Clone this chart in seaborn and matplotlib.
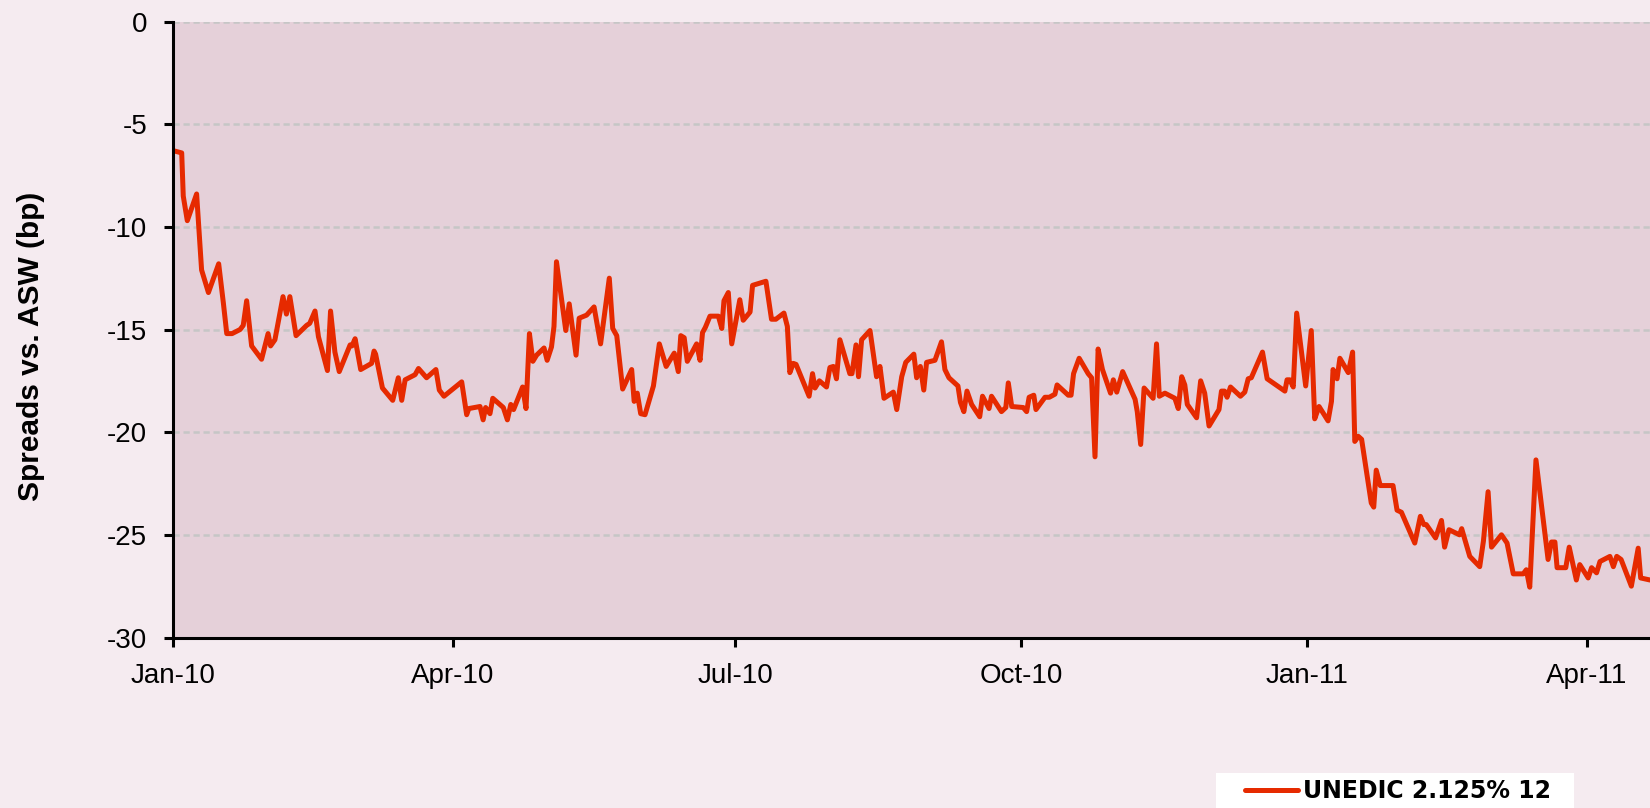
import pandas as pd
import matplotlib
matplotlib.use("Agg")
import matplotlib.pyplot as plt
import matplotlib.dates as mdates
from matplotlib.patches import Rectangle
import seaborn as sns

# days after 1 Jan 2010
days = [0.3, 2.8, 3.3, 4.6, 7.6, 9.2, 11.4, 14.7, 16.2, 17.3, 19.0, 21.6, 22.6, 23.7,
        25.3, 28.5, 30.6, 31.4, 32.8, 35.4, 36.5, 37.6, 39.6, 43.0, 44.0, 45.7, 46.8,
        49.7, 50.7, 52.1, 53.5, 57.0, 57.6, 58.6, 60.4, 63.9, 64.7, 65.2, 67.4, 70.7,
        72.5, 73.6, 74.7, 77.9, 79.0, 81.6, 84.6, 85.7, 87.2, 92.9, 94.5, 95.2, 98.8,
        99.8, 100.6, 102.0, 102.9, 106.3, 107.6, 108.7, 109.6, 112.5, 113.6, 114.7,
        115.8, 117.0, 119.4, 120.4, 121.8, 122.6, 123.4, 126.4, 127.5, 129.7, 130.7,
        133.1, 135.5, 137.6, 140.4, 141.5, 142.8, 144.7, 147.6, 148.4, 149.4, 150.5,
        151.9, 154.6, 156.5, 158.7, 161.3, 162.6, 163.4, 164.5, 165.5, 168.5, 169.6,
        170.4, 171.3, 172.8, 175.5, 176.6, 177.3, 178.7, 179.8, 182.4, 183.5, 185.7,
        186.5, 190.8, 192.6, 194.0, 196.6, 197.7, 198.5, 199.6, 200.5, 204.7, 205.8,
        206.6, 208.0, 210.3, 211.4, 212.5, 213.5, 214.6, 217.8, 218.5, 219.8, 220.6,
        221.6, 224.3, 226.4, 227.5, 228.8, 231.8, 232.9, 234.5, 235.8, 237.1, 238.4,
        239.3, 240.5, 241.6, 242.5, 245.2, 247.3, 248.4, 249.7, 252.6, 253.4, 254.5,
        255.5, 257.0, 259.6, 260.5, 262.6, 263.4, 266.6, 268.0, 268.8, 269.9, 273.6,
        274.7, 275.5, 277.0, 277.7, 280.6, 282.0, 283.8, 284.5, 288.1, 289.0, 289.8,
        291.6, 294.5, 295.6, 296.7, 297.7, 299.1, 301.7, 302.6, 303.7, 305.6, 309.6,
        310.3, 311.4, 312.5, 315.4, 316.5, 317.4, 319.2, 322.4, 323.5, 324.6, 325.6,
        326.4, 329.4, 330.7, 332.0, 333.4, 336.6, 337.4, 338.4, 339.2, 340.3, 343.5,
        344.9, 346.0, 347.0, 350.6, 352.1, 357.8, 358.5, 359.4, 360.5, 361.6, 364.5,
        366.3, 367.4, 368.8, 371.7, 372.8, 373.3, 374.6, 375.5, 378.2, 379.6, 380.3,
        381.4, 382.5, 385.6, 386.4, 387.2, 388.5, 392.6, 393.9, 395.3, 399.6, 401.4,
        402.5, 403.3, 406.3, 408.2, 409.2, 410.6, 414.0, 414.7, 417.3, 420.5, 421.7,
        423.2, 424.3, 427.5, 429.3, 431.3, 434.5, 435.5, 436.6, 438.6, 442.5, 443.6,
        444.7, 445.4, 448.2, 449.3, 451.6, 452.7, 455.4, 456.5, 458.1, 459.2, 462.4,
        463.5, 464.6, 466.0, 469.3, 471.5, 472.3, 475.3]

spread = [-6.3, -6.4, -8.5, -9.7, -8.4, -12.1, -13.2, -11.8, -13.7, -15.2, -15.2, -15.0,
          -14.8, -13.6, -15.8, -16.45, -15.2, -15.8, -15.5, -13.4, -14.25, -13.4, -15.3,
          -14.8, -14.7, -14.1, -15.35, -17.0, -14.1, -16.1, -17.05, -15.75, -15.8, -15.45,
          -16.95, -16.65, -16.05, -16.2, -17.85, -18.45, -17.35, -18.45, -17.45, -17.2,
          -16.9, -17.35, -16.95, -17.95, -18.25, -17.55, -19.15, -18.85, -18.75, -19.4,
          -18.8, -19.1, -18.35, -18.8, -19.4, -18.65, -18.9, -17.8, -18.85, -15.2, -16.55,
          -16.25, -15.9, -16.5, -15.85, -14.85, -11.7, -15.05, -13.75, -16.25, -14.45,
          -14.3, -13.9, -15.7, -12.5, -14.95, -15.3, -17.9, -16.95, -18.5, -18.1, -19.1,
          -19.15, -17.75, -15.7, -16.8, -16.15, -17.05, -15.3, -15.4, -16.55, -15.7,
          -16.5, -15.15, -14.9, -14.35, -14.35, -14.95, -13.6, -13.2, -15.7, -13.55,
          -14.55, -14.15, -12.85, -12.65, -14.5, -14.5, -14.2, -14.85, -17.1, -16.65,
          -16.7, -18.25, -17.15, -17.85, -17.5, -17.8, -16.85, -16.8, -17.4, -15.5,
          -17.15, -17.15, -15.75, -17.3, -15.5, -15.05, -17.3, -16.8, -18.35, -18.05,
          -18.9, -17.3, -16.6, -16.4, -16.2, -17.35, -16.8, -17.95, -16.6, -16.5, -15.6,
          -16.95, -17.35, -17.75, -18.55, -19.0, -18.0, -18.65, -19.25, -18.25, -18.85,
          -18.25, -19.0, -18.8, -17.6, -18.75, -18.8, -19.0, -18.3, -18.2, -18.9, -18.3,
          -18.3, -18.15, -17.7, -18.2, -18.2, -17.15, -16.4, -17.15, -17.35, -21.2,
          -15.95, -16.95, -18.1, -17.45, -18.05, -17.05, -18.4, -19.0, -20.6, -17.85,
          -18.35, -15.7, -18.25, -18.1, -18.35, -18.85, -17.3, -17.7, -18.65, -19.3,
          -17.5, -18.1, -19.7, -18.9, -18.0, -18.0, -18.3, -17.8, -18.25, -18.05, -17.4,
          -17.35, -16.1, -17.4, -18.0, -17.45, -17.45, -17.8, -14.2, -17.75, -15.05,
          -19.35, -18.75, -19.45, -18.5, -16.95, -17.4, -16.4, -17.1, -16.1, -20.45,
          -20.2, -20.35, -23.45, -23.65, -21.85, -22.6, -22.6, -23.8, -23.9, -25.4,
          -24.1, -24.5, -24.5, -25.15, -24.3, -25.6, -24.75, -25.0, -24.7, -26.05,
          -26.55, -25.3, -22.9, -25.6, -25.0, -25.4, -26.9, -26.9, -26.7, -27.55, -21.35,
          -26.2, -25.35, -25.35, -26.6, -26.6, -25.6, -27.2, -26.45, -27.1, -26.6, -26.85,
          -26.3, -26.05, -26.55, -26.05, -26.2, -27.5, -25.65, -27.1, -27.2]

series_name = "UNEDIC 2.125% 12"
tick_months = [1, 4, 7, 10]
y_ticks = [0, -5, -10, -15, -20, -25, -30]

start = pd.Timestamp("2010-01-01")
df = pd.DataFrame({
    "date": start + pd.to_timedelta(days, unit="D"),
    "spread": spread,
})

sns.set_style("white")
plt.rcParams["font.family"] = ["Liberation Sans", "DejaVu Sans"]
plt.rcParams["axes.unicode_minus"] = False
plt.rcParams["text.color"] = "black"
plt.rcParams["xtick.color"] = "black"
plt.rcParams["ytick.color"] = "black"

fig = plt.figure(figsize=(16.5, 8.08), dpi=100, facecolor="#F5EBF0")
ax = fig.add_axes([173 / 1650, 1 - 637.5 / 808, 1477 / 1650, 616 / 808])
ax.set_facecolor("#E5D0D9")

sns.lineplot(data=df, x="date", y="spread", ax=ax, color="#E62A00",
             linewidth=3.6, estimator=None, sort=False, label=series_name)

ax.set_ylim(-30, 0)
ax.set_yticks(y_ticks)
ax.set_xlim(start, start + pd.Timedelta(days=475.3))
ax.xaxis.set_major_locator(mdates.MonthLocator(bymonth=tick_months))
ax.xaxis.set_major_formatter(mdates.DateFormatter("%b-%y"))

ax.grid(axis="y", color="#C6C6C6", linewidth=1.8, linestyle=(0, (2.5, 1.5)))
ax.grid(axis="x", visible=False)
ax.set_axisbelow(True)

for side in ["top", "right"]:
    ax.spines[side].set_visible(False)
for side in ["left", "bottom"]:
    ax.spines[side].set_color("black")
    ax.spines[side].set_linewidth(2.2)

ax.tick_params(axis="both", which="major", direction="out", length=6.5, width=2.2,
               color="black", labelcolor="black", labelsize=20, pad=12,
               left=True, bottom=True)

ax.set_xlabel("")
ax.set_ylabel("")
fig.text(31.5 / 1650, 1 - 346 / 808, "Spreads vs. ASW (bp)", rotation=90,
         ha="center", va="center", fontsize=21.5, fontweight="bold", color="black")

# white legend box at the bottom
fig.patches.append(Rectangle((1216 / 1650, 0), 358 / 1650, 1 - 773 / 808,
                             transform=fig.transFigure, facecolor="white",
                             edgecolor="none", zorder=-1))
leg = ax.legend(loc="center left", bbox_to_anchor=(1244.5 / 1650, 1 - 791 / 808),
                bbox_transform=fig.transFigure, frameon=False, borderpad=0,
                borderaxespad=0, handlelength=2.27, handletextpad=0.2,
                prop={"family": ["DejaVu Sans"], "weight": "bold", "size": 17})
leg.set_zorder(5)

fig.savefig("out.png", dpi=100, facecolor=fig.get_facecolor())
